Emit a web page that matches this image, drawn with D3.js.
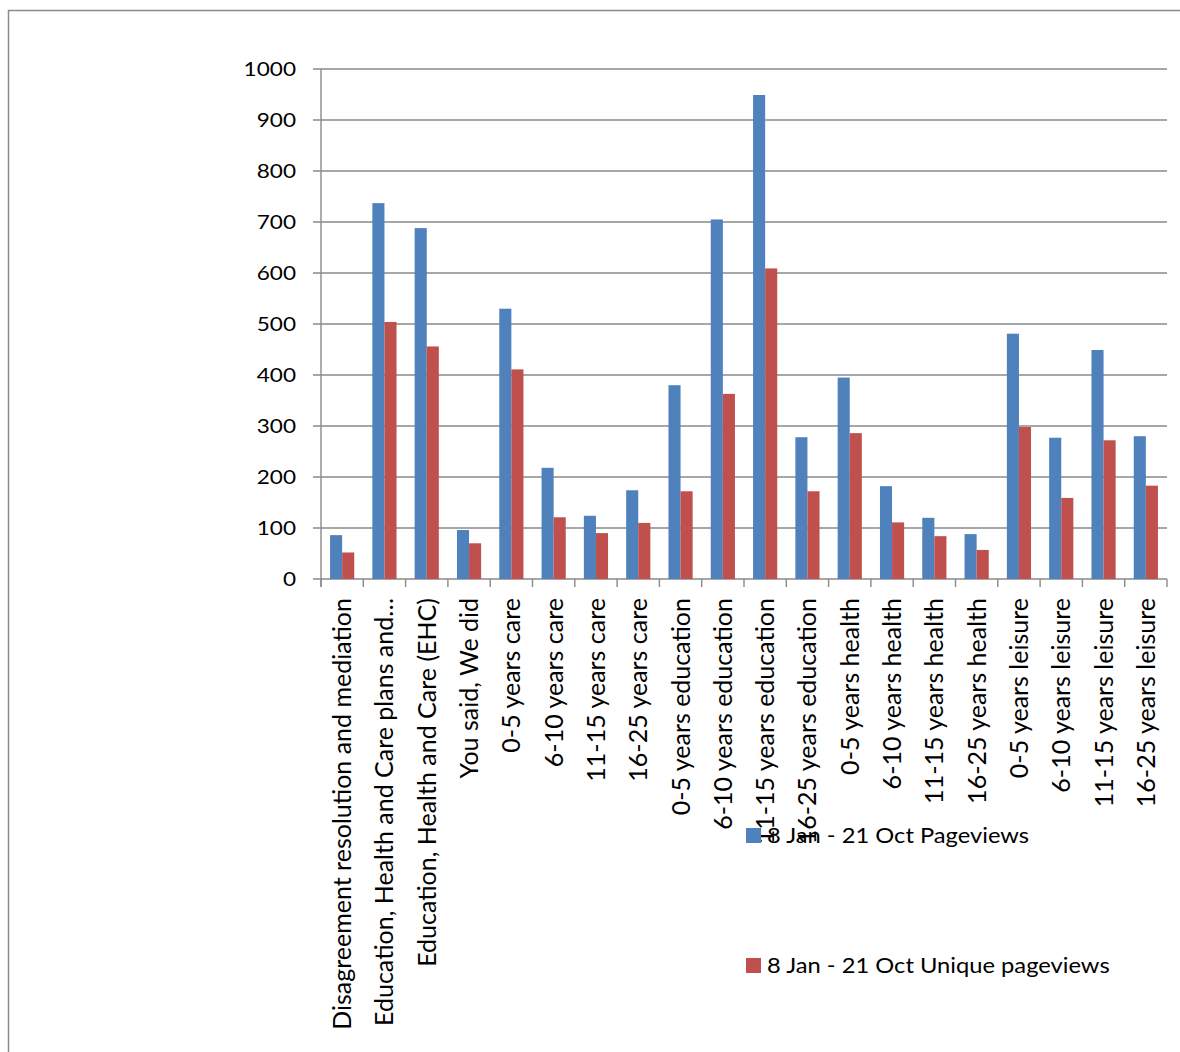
<!DOCTYPE html>
<html>
<head>
<meta charset="utf-8">
<script src="https://cdn.jsdelivr.net/npm/d3@7"></script>
<style>
  html, body { margin: 0; padding: 0; background: #fff; }
  svg { display: block; }
  text { font-family: Lato, "Noto Sans", sans-serif; fill: #000; }
</style>
</head>
<body>
<svg id="chart" width="1180" height="1052"></svg>
<script>
// Page categories
const categories = [
  "Disagreement resolution and mediation",
  "Education, Health and Care plans and…",
  "Education, Health and Care (EHC)",
  "You said, We did",
  "0-5 years care",
  "6-10 years care",
  "11-15 years care",
  "16-25 years care",
  "0-5 years education",
  "6-10 years education",
  "11-15 years education",
  "16-25 years education",
  "0-5 years health",
  "6-10 years health",
  "11-15 years health",
  "16-25 years health",
  "0-5 years leisure",
  "6-10 years leisure",
  "11-15 years leisure",
  "16-25 years leisure"
];

// 8 Jan - 21 Oct Pageviews
const pageviews = [86, 737, 688, 96, 530, 218, 124, 174, 380, 705, 949, 278, 395, 182, 120, 88, 481, 277, 449, 280];
// 8 Jan - 21 Oct Unique pageviews
const uniquePageviews = [52, 504, 456, 70, 411, 121, 90, 110, 172, 363, 609, 172, 286, 111, 84, 57, 298, 159, 272, 183];

const seriesNames = ["8 Jan - 21 Oct Pageviews", "8 Jan - 21 Oct Unique pageviews"];
const seriesColors = ["#4F81BD", "#C0504D"];
const yTicks = [0, 100, 200, 300, 400, 500, 600, 700, 800, 900, 1000];

const svg = d3.select("#chart");
const SX = 1.13;       // horizontal stretch for upright text
const gridColor = "#8a8a8a";

// chart frame
svg.append("path")
  .attr("d", "M8.5,1052 L8.5,10.5 L1180,10.5")
  .attr("fill", "none")
  .attr("stroke", gridColor)
  .attr("stroke-width", 1.5);

const plot = { left: 321, right: 1167, top: 69, bottom: 579 };

const x = d3.scaleBand().domain(categories).range([plot.left, plot.right]).padding(0);
const y = d3.scaleLinear().domain([0, 1000]).range([plot.bottom, plot.top]);

// horizontal gridlines
svg.append("g")
  .selectAll("line")
  .data(yTicks)
  .join("line")
  .attr("x1", plot.left - 8)
  .attr("x2", plot.right)
  .attr("y1", d => y(d))
  .attr("y2", d => y(d))
  .attr("stroke", gridColor)
  .attr("stroke-width", 1.4);

// y tick labels
svg.append("g")
  .selectAll("text")
  .data(yTicks)
  .join("text")
  .attr("transform", d => `translate(296,${y(d)}) scale(${SX},1)`)
  .attr("text-anchor", "end")
  .attr("dy", "0.36em")
  .attr("font-size", 20)
  .text(d => d);

// bars: two per category, gap of 1.5 bar widths
const bw = x.bandwidth() / 3.5;
const series = [pageviews, uniquePageviews];
series.forEach((vals, si) => {
  svg.append("g")
    .selectAll("rect")
    .data(categories)
    .join("rect")
    .attr("x", (c) => x(c) + 0.75 * bw + si * bw)
    .attr("width", bw)
    .attr("y", (c, i) => y(vals[i]))
    .attr("height", (c, i) => y(0) - y(vals[i]))
    .attr("fill", seriesColors[si]);
});

// axis lines
svg.append("line")
  .attr("x1", plot.left).attr("x2", plot.left)
  .attr("y1", plot.top).attr("y2", plot.bottom + 8)
  .attr("stroke", gridColor).attr("stroke-width", 1.4);

const bounds = categories.map(c => x(c)).concat([plot.right]);
svg.append("g")
  .selectAll("line")
  .data(bounds)
  .join("line")
  .attr("x1", d => d).attr("x2", d => d)
  .attr("y1", plot.bottom).attr("y2", plot.bottom + 8)
  .attr("stroke", gridColor).attr("stroke-width", 1.4);

// rotated category labels
svg.append("g")
  .selectAll("text")
  .data(categories)
  .join("text")
  .attr("transform", c => `translate(${x(c) + x.bandwidth() / 2},598) rotate(-90)`)
  .attr("text-anchor", "end")
  .attr("dy", "0.36em")
  .attr("font-size", 25)
  .text(c => c);

// legend
const legendY = [843, 973];
seriesNames.forEach((name, i) => {
  const g = svg.append("g");
  g.append("rect")
    .attr("x", 746).attr("y", legendY[i] - 15)
    .attr("width", 15).attr("height", 15)
    .attr("fill", seriesColors[i]);
  g.append("text")
    .attr("transform", `translate(767,${legendY[i]}) scale(${SX},1)`)
    .attr("font-size", 21)
    .text(name);
});
</script>
</body>
</html>
